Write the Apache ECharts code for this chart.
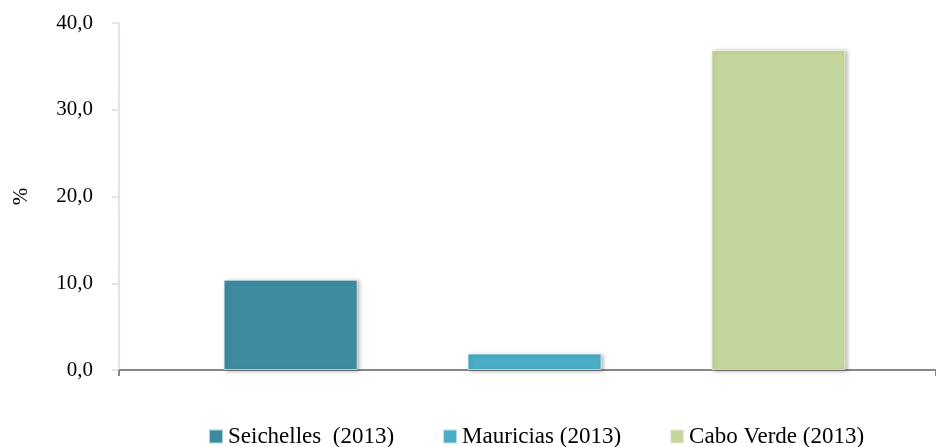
<!DOCTYPE html>
<html>
<head>
<meta charset="utf-8">
<script src="https://cdn.jsdelivr.net/npm/echarts@6/dist/echarts.min.js"></script>
<style>
  html, body { margin: 0; padding: 0; background: #fff; }
  #main { width: 936px; height: 447px; }
</style>
</head>
<body>
<div id="main"></div>
<script>
// 数据
const seriesNames = ['Seichelles  (2013)', 'Mauricias (2013)', 'Cabo Verde (2013)'];
const seriesValues = [10.4, 1.9, 36.9];
const seriesColors = ['#3d8ba1', '#4bacc6', '#c4d69c'];
const categories = [''];
const yTicks = { min: 0, max: 40, interval: 10 };

const serif = '"Liberation Serif", "DejaVu Serif", serif';

let myChart = echarts.init(document.getElementById('main'));

// 柱子放在第二个grid上（稍微偏右），坐标轴画在第一个grid上
let series = seriesNames.map((name, i) => ({
  name: name,
  type: 'bar',
  xAxisIndex: 1,
  yAxisIndex: 1,
  data: [seriesValues[i]],
  barWidth: 134,
  barGap: '82%',
  itemStyle: {
    color: seriesColors[i],
    borderColor: 'rgba(255,255,255,0.6)',
    borderWidth: 1,
    shadowColor: 'rgba(0,0,0,0.3)',
    shadowBlur: 4,
    shadowOffsetX: 2,
    shadowOffsetY: 1
  }
}));

let option = {
  animation: false,
  grid: [
    { left: 119, right: 0, top: 23, bottom: 77 },
    { left: 133, right: 0, top: 23, bottom: 77 }
  ],
  legend: {
    bottom: -6,
    left: 203,
    itemWidth: 14,
    itemHeight: 14,
    itemGap: 48,
    icon: 'rect',
    textStyle: { fontFamily: serif, fontSize: 23, color: '#000' },
    data: seriesNames
  },
  xAxis: [
    {
      type: 'category',
      gridIndex: 0,
      data: categories,
      axisLine: { lineStyle: { color: '#878787', width: 2 } },
      axisTick: { show: true, length: 6, lineStyle: { color: '#878787', width: 2 } },
      axisLabel: { show: false }
    },
    {
      type: 'category',
      gridIndex: 1,
      data: categories,
      show: false
    }
  ],
  yAxis: [
    {
      type: 'value',
      gridIndex: 0,
      min: yTicks.min,
      max: yTicks.max,
      interval: yTicks.interval,
      name: '%',
      nameLocation: 'middle',
      nameGap: 87,
      nameTextStyle: { fontFamily: serif, fontSize: 21, color: '#000' },
      axisLine: { show: true, lineStyle: { color: '#dce6f2', width: 2 } },
      axisTick: { show: true, length: 7, lineStyle: { color: '#dce6f2', width: 2 } },
      splitLine: { show: false },
      axisLabel: {
        fontFamily: serif,
        fontSize: 21,
        color: '#000',
        margin: 26,
        formatter: v => v.toFixed(1).replace('.', ',')
      }
    },
    {
      type: 'value',
      gridIndex: 1,
      min: yTicks.min,
      max: yTicks.max,
      interval: yTicks.interval,
      show: false
    }
  ],
  series: series
};

myChart.setOption(option);
</script>
</body>
</html>
